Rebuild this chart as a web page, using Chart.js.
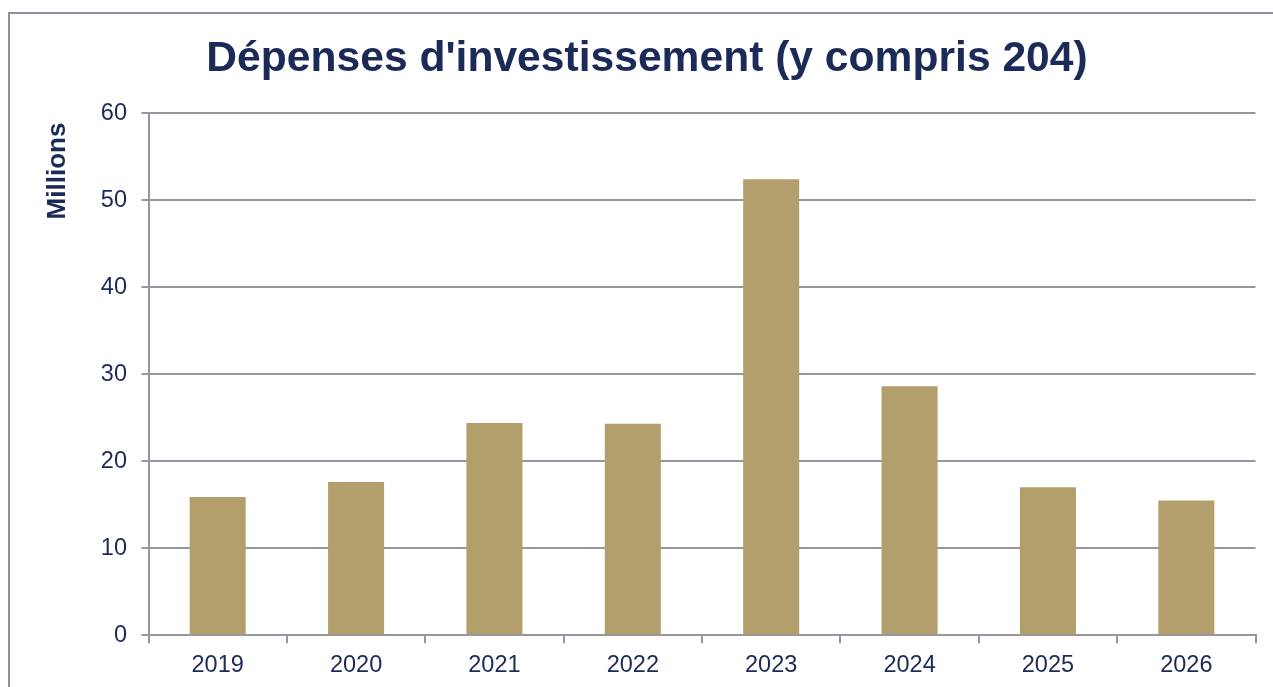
<!DOCTYPE html>
<html lang="fr">
<head>
<meta charset="utf-8">
<script src="https://cdn.jsdelivr.net/npm/chart.js@4.4.0/dist/chart.umd.min.js"></script>
<style>
  html, body { margin: 0; padding: 0; background: #fff; overflow: hidden; }
  /* cadre gris autour du graphique (bords gauche et haut visibles) */
  #cadre {
    position: absolute; left: 8px; top: 12px; width: 1300px; height: 700px;
    border-left: 2px solid #8e909a; border-top: 2px solid #8e909a;
  }
  #graph { position: absolute; left: 0; top: 0; }
</style>
</head>
<body>
<div id="cadre"></div>
<canvas id="graph" width="1273" height="687"></canvas>
<script>
// Données : dépenses d'investissement en millions
const annees = ['2019', '2020', '2021', '2022', '2023', '2024', '2025', '2026'];
const depenses = [15.9, 17.6, 24.4, 24.3, 52.4, 28.6, 17.0, 15.5];
const graduations = [0, 10, 20, 30, 40, 50, 60];

const bleuNuit = '#1b2a56';
const gris = '#9597a1';
const police = '"Liberation Sans", Arial, sans-serif';

// Titre de l'axe vertical, placé en haut à gauche
const titreAxe = {
  id: 'titreAxe',
  afterDraw(chart) {
    const ctx = chart.ctx;
    ctx.save();
    ctx.translate(57.5, chart.chartArea.top + 58);
    ctx.rotate(-Math.PI / 2);
    ctx.font = 'bold 26px ' + police;
    ctx.fillStyle = bleuNuit;
    ctx.textAlign = 'center';
    ctx.textBaseline = 'middle';
    ctx.fillText('Millions', 0, 0);
    ctx.restore();
  }
};

new Chart(document.getElementById('graph'), {
  type: 'bar',
  data: {
    labels: annees,
    datasets: [{
      data: depenses,
      backgroundColor: '#b39f6c',
      borderWidth: 0,
      barPercentage: 0.405,
      categoryPercentage: 1
    }]
  },
  options: {
    responsive: false,
    animation: false,
    devicePixelRatio: 1,
    layout: { padding: { left: 38.5, right: 17.5, top: 0, bottom: 0 } },
    plugins: {
      legend: { display: false },
      tooltip: { enabled: false },
      title: {
        display: true,
        text: "Dépenses d'investissement (y compris 204)",
        color: bleuNuit,
        font: { family: police, size: 42.6, weight: 'bold', lineHeight: 1.2 },
        padding: { top: 34, bottom: 27.9 }
      }
    },
    scales: {
      x: {
        afterFit(scale) { scale.height = 51.7; },
        grid: { drawOnChartArea: false, color: gris, lineWidth: 2, tickLength: 8 },
        border: { color: gris, width: 2 },
        ticks: { color: bleuNuit, padding: 8, font: { family: police, size: 23.5 } }
      },
      y: {
        min: 0,
        max: 60,
        afterFit(scale) { scale.width = 110; },
        afterBuildTicks(scale) { scale.ticks = graduations.map(v => ({ value: v })); },
        grid: { color: gris, lineWidth: 2, tickLength: 7 },
        border: { color: gris, width: 2 },
        ticks: { color: bleuNuit, padding: 14.5, font: { family: police, size: 23.5 } }
      }
    }
  },
  plugins: [titreAxe]
});
</script>
</body>
</html>
